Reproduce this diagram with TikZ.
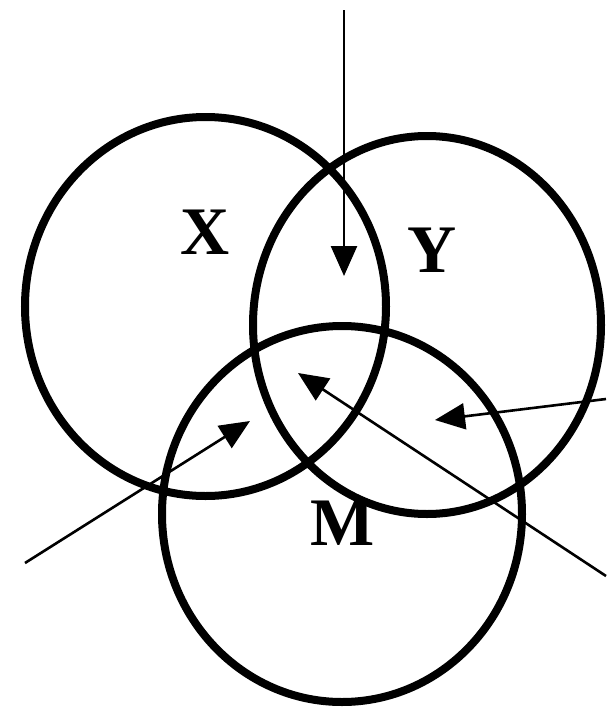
\documentclass[tikz,border=0pt]{standalone}
\usepackage{fontspec}
\setmainfont{Liberation Serif}
\usepackage{tikz}
\usetikzlibrary{arrows.meta,shapes.geometric}

\begin{document}
\begin{tikzpicture}[
  x=1pt, y=-1pt,
  ring/.style={draw, ellipse, line width=8pt, inner sep=0pt},
  arrow/.style={-{Triangle[length=30pt,width=26pt]}, line width=2.6pt},
  lbl/.style={font=\fontsize{68}{70}\selectfont\bfseries, inner sep=0pt}
]
\useasboundingbox (0,0) rectangle (606,707);
% the three sets
\node[ring, minimum width=361pt, minimum height=379pt] (setX) at (205.5,306.5) {};
\node[ring, minimum width=348pt, minimum height=378pt] (setY) at (427,325) {};
\node[ring, minimum width=360pt, minimum height=376pt] (setM) at (342,514) {};
\node[lbl] (labX) at (205,232) {X};
\node[lbl] (labY) at (432,250) {Y};
\node[lbl] (labM) at (343,523) {M};
% arrows pointing into the regions
\coordinate (inTop) at (344,10);
\coordinate (tipTop) at (344,276);
\coordinate (inLeft) at (25,563);
\coordinate (tipLeft) at (250,421);
\coordinate (inRight) at (606,399);
\coordinate (tipRight) at (435,420);
\coordinate (inLow) at (606,576);
\coordinate (tipLow) at (298,373);
\draw[arrow] (inTop) -- (tipTop);
\draw[arrow] (inLeft) -- (tipLeft);
\draw[arrow] (inRight) -- (tipRight);
\draw[arrow] (inLow) -- (tipLow);
\end{tikzpicture}
\end{document}
